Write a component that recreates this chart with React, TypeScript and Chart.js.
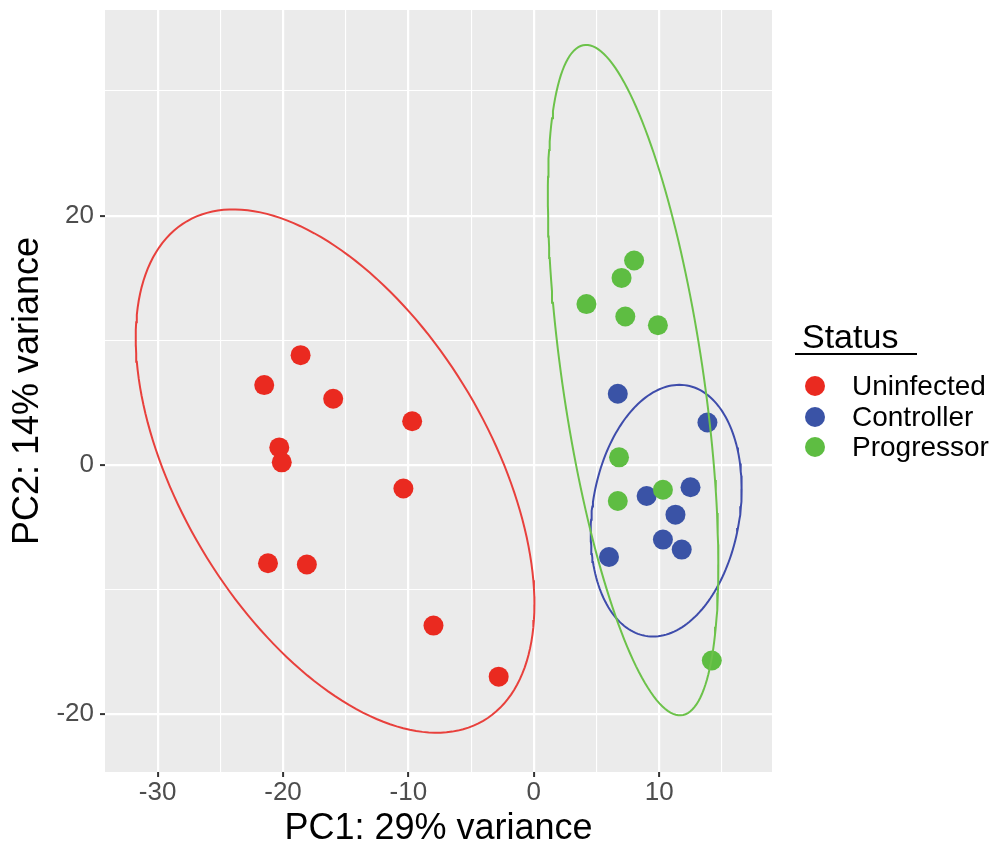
import React, { useEffect, useRef } from "react";
import { Chart, registerables } from "chart.js";

Chart.register(...registerables);

// ---- Data ----
const GROUPS = ["Uninfected", "Controller", "Progressor"];
const POINT_COLORS = ["#EA2A20", "#3A53A6", "#5EBD42"];
const ELLIPSE_COLORS = ["#E8403C", "#3E4CAB", "#6CC24A"];

const UNINFECTED_X = [-21.5, -18.6, -16.0, -9.7, -20.3, -20.1, -10.4, -21.2, -18.1, -8.0, -2.8];
const UNINFECTED_Y = [6.4, 8.8, 5.3, 3.5, 1.4, 0.2, -1.9, -7.9, -8.0, -12.9, -17.0];

const CONTROLLER_X = [6.7, 13.85, 9.0, 12.5, 11.3, 10.3, 11.8, 6.0];
const CONTROLLER_Y = [5.7, 3.4, -2.5, -1.8, -4.0, -6.0, -6.8, -7.4];

const PROGRESSOR_X = [8.0, 7.0, 4.2, 7.3, 9.9, 6.8, 6.7, 10.3, 14.2];
const PROGRESSOR_Y = [16.4, 15.0, 12.9, 11.9, 11.2, 0.6, -2.9, -2.0, -15.7];

// 95% ellipse outlines per group (center, half extents, phase between x and y)
const ELLIPSE_CENTER_X = [-15.85, 10.56, 7.92];
const ELLIPSE_CENTER_Y = [-0.5, -3.68, 6.8];
const ELLIPSE_HALF_WIDTH = [15.9, 6.02, 6.8];
const ELLIPSE_HALF_HEIGHT = [21.0, 10.1, 26.9];
const ELLIPSE_PHASE = [2.106, 1.395, 2.153];

const X_MAJOR = [-30, -20, -10, 0, 10];
const X_MINOR = [-25, -15, -5, 5, 15];
const Y_MAJOR = [-20, 0, 20];
const Y_MINOR = [-10, 10, 30];

const X_MIN = -34.2;
const X_MAX = 19.0;
const Y_MIN = -24.65;
const Y_MAX = 36.5;

const X_TITLE = "PC1: 29% variance";
const Y_TITLE = "PC2: 14% variance";
const LEGEND_TITLE = "Status";

const FONT = "'Liberation Sans', Arial, Helvetica, sans-serif";

function pairs(xs: number[], ys: number[]) {
  return xs.map((x, i) => ({ x, y: ys[i] }));
}

function ellipsePoints(g: number) {
  const pts: { x: number; y: number }[] = [];
  const n = 180;
  for (let i = 0; i <= n; i++) {
    const t = (i / n) * Math.PI * 2;
    pts.push({
      x: ELLIPSE_CENTER_X[g] + ELLIPSE_HALF_WIDTH[g] * Math.cos(t),
      y: ELLIPSE_CENTER_Y[g] + ELLIPSE_HALF_HEIGHT[g] * Math.cos(t + ELLIPSE_PHASE[g]),
    });
  }
  return pts;
}

const panelBg = {
  id: "panelBg",
  beforeDraw(chart: any) {
    const { ctx, chartArea } = chart;
    ctx.save();
    ctx.fillStyle = "#EBEBEB";
    ctx.fillRect(chartArea.left, chartArea.top, chartArea.right - chartArea.left, chartArea.bottom - chartArea.top);
    ctx.restore();
  },
};

const statusLegend = {
  id: "statusLegend",
  afterDraw(chart: any) {
    const { ctx, chartArea } = chart;
    const x0 = chartArea.right + 23;
    ctx.save();
    ctx.fillStyle = "#000";
    ctx.font = `34px ${FONT}`;
    ctx.textAlign = "left";
    ctx.textBaseline = "alphabetic";
    ctx.fillText(LEGEND_TITLE, x0 + 7, 348);
    ctx.strokeStyle = "#000";
    ctx.lineWidth = 2;
    ctx.beginPath();
    ctx.moveTo(x0, 354);
    ctx.lineTo(x0 + 122, 354);
    ctx.stroke();
    const ys = [386, 417, 447];
    ctx.font = `28px ${FONT}`;
    ctx.textBaseline = "middle";
    GROUPS.forEach((g, i) => {
      ctx.fillStyle = POINT_COLORS[i];
      ctx.beginPath();
      ctx.arc(x0 + 20, ys[i], 10, 0, Math.PI * 2);
      ctx.fill();
      ctx.fillStyle = "#000";
      ctx.fillText(g, x0 + 57, ys[i] + 1);
    });
    ctx.restore();
  },
};

export default function App() {
  const ref = useRef<HTMLCanvasElement | null>(null);

  useEffect(() => {
    if (!ref.current) return;
    const groupsData = [
      pairs(UNINFECTED_X, UNINFECTED_Y),
      pairs(CONTROLLER_X, CONTROLLER_Y),
      pairs(PROGRESSOR_X, PROGRESSOR_Y),
    ];
    const datasets: any[] = [];
    // ellipses (on top)
    [2, 1, 0].forEach((g, k) => {
      datasets.push({
        label: GROUPS[g] + " ellipse",
        data: ellipsePoints(g),
        showLine: true,
        borderColor: ELLIPSE_COLORS[g],
        borderWidth: 2,
        pointRadius: 0,
        pointHoverRadius: 0,
        fill: false,
        tension: 0,
        order: k,
      });
    });
    // points
    [2, 1, 0].forEach((g, k) => {
      datasets.push({
        label: GROUPS[g],
        data: groupsData[g],
        backgroundColor: POINT_COLORS[g],
        borderWidth: 0,
        pointRadius: 10,
        pointHoverRadius: 10,
        order: 3 + k,
      });
    });

    const xTicks = [...X_MAJOR, ...X_MINOR].sort((a, b) => a - b);
    const yTicks = [...Y_MAJOR, ...Y_MINOR].sort((a, b) => a - b);

    const chart = new Chart(ref.current, {
      type: "scatter",
      data: { datasets },
      plugins: [panelBg, statusLegend],
      options: {
        animation: false,
        responsive: true,
        maintainAspectRatio: false,
        layout: { padding: { left: 0, top: 8, right: 229, bottom: 0 } },
        plugins: {
          legend: { display: false },
          tooltip: { enabled: false },
        },
        scales: {
          x: {
            type: "linear",
            min: X_MIN,
            max: X_MAX,
            afterBuildTicks: (s: any) => {
              s.ticks = xTicks.map((v) => ({ value: v }));
            },
            afterFit: (s: any) => {
              s.height = 71;
              s.paddingLeft = 0;
              s.paddingRight = 0;
              s.paddingTop = 0;
              s.paddingBottom = 0;
            },
            ticks: {
              autoSkip: false,
              maxRotation: 0,
              padding: 0,
              color: "#4D4D4D",
              font: { family: FONT, size: 26 },
              callback: (v: any) => (X_MAJOR.includes(Number(v)) ? String(v) : ""),
            },
            grid: {
              color: "#FFFFFF",
              lineWidth: (c: any) => (X_MAJOR.includes(c.tick?.value) ? 2.2 : 1.1),
              tickColor: (c: any) => (X_MAJOR.includes(c.tick?.value) ? "#333333" : "rgba(0,0,0,0)"),
              tickLength: 5,
              tickWidth: 2,
            },
            border: { display: false },
            title: {
              display: true,
              text: X_TITLE,
              color: "#000",
              font: { family: FONT, size: 36, lineHeight: 1 },
              padding: { top: 0, bottom: -4 },
            },
          },
          y: {
            type: "linear",
            min: Y_MIN,
            max: Y_MAX,
            afterBuildTicks: (s: any) => {
              s.ticks = yTicks.map((v) => ({ value: v }));
            },
            afterFit: (s: any) => {
              s.width = 105;
              s.paddingLeft = 0;
              s.paddingRight = 0;
              s.paddingTop = 0;
              s.paddingBottom = 0;
            },
            ticks: {
              autoSkip: false,
              padding: 6,
              color: "#4D4D4D",
              font: { family: FONT, size: 26 },
              callback: (v: any) => (Y_MAJOR.includes(Number(v)) ? String(v) : ""),
            },
            grid: {
              color: "#FFFFFF",
              lineWidth: (c: any) => (Y_MAJOR.includes(c.tick?.value) ? 2.2 : 1.1),
              tickColor: (c: any) => (Y_MAJOR.includes(c.tick?.value) ? "#333333" : "rgba(0,0,0,0)"),
              tickLength: 5,
              tickWidth: 2,
            },
            border: { display: false },
            title: {
              display: true,
              text: Y_TITLE,
              color: "#000",
              font: { family: FONT, size: 36, lineHeight: 1 },
              padding: { top: 10, bottom: 0 },
            },
          },
        },
      } as any,
    });
    return () => chart.destroy();
  }, []);

  return (
    <div style={{ position: "absolute", left: 0, top: 0, width: 1001, height: 843, background: "#fff" }}>
      <canvas ref={ref} />
    </div>
  );
}
